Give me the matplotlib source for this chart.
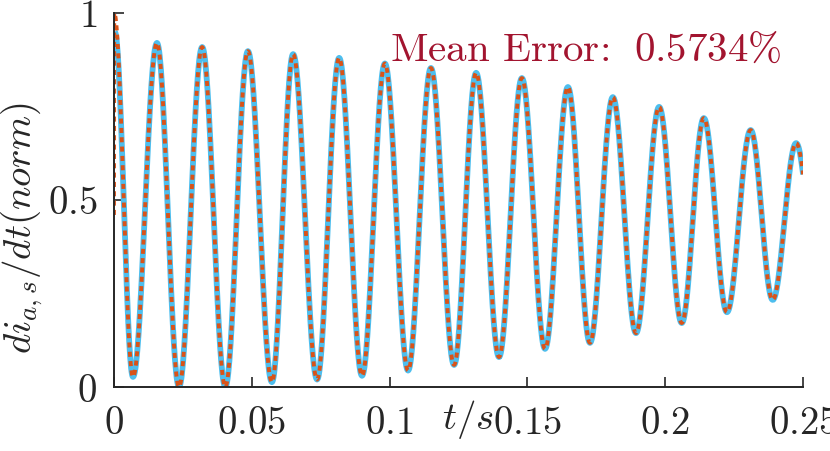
import matplotlib
matplotlib.use('Agg')
import matplotlib.pyplot as plt
import numpy as np

plt.rcParams['mathtext.fontset'] = 'cm'
plt.rcParams['font.family'] = 'serif'

# extrema of the waveform (time in s, normalised value)
ext_t = [0.0069, 0.0156, 0.0236, 0.0320, 0.0404, 0.0486, 0.0573, 0.0650,
         0.0737, 0.0817, 0.0900, 0.0983, 0.1067, 0.1150, 0.1234, 0.1314,
         0.1397, 0.1480, 0.1564, 0.1647, 0.1727, 0.1810, 0.1894, 0.1978,
         0.2060, 0.2140, 0.2224, 0.2310, 0.2390, 0.2475, 0.2557]
ext_v = [0.027, 0.920, 0.000, 0.909, 0.000, 0.898, 0.013, 0.890,
         0.020, 0.880, 0.030, 0.865, 0.044, 0.853, 0.059, 0.840,
         0.080, 0.826, 0.102, 0.802, 0.118, 0.775, 0.144, 0.749,
         0.171, 0.719, 0.200, 0.687, 0.233, 0.652, 0.265]

# start of each trace
sim_start_t = [0.0003]
sim_start_v = [0.95]
ref_start_t = [0.0, 0.0001]
ref_start_v = [0.46, 1.0]

xticks = [0, 0.05, 0.1, 0.15, 0.2, 0.25]
xticklabels = ['$0$', '$0.05$', '$0.1$', '$0.15$', '$0.2$', '$0.25$']
yticks = [0, 0.5, 1]
yticklabels = ['$0$', '$0.5$', '$1$']

mean_error = 0.5734


def wave(tp, vp, n=40):
    # join the extrema with half-cosine arcs
    ts, vs = [], []
    for i in range(len(tp) - 1):
        s = np.linspace(0, 1, n)
        ts.append(tp[i] + (tp[i + 1] - tp[i]) * s)
        vs.append(vp[i] + (vp[i + 1] - vp[i]) * (1 - np.cos(np.pi * s)) / 2)
    return np.concatenate(ts), np.concatenate(vs)


t_sim, v_sim = wave(sim_start_t + ext_t, sim_start_v + ext_v)
t_ref, v_ref = wave(ref_start_t + ext_t, ref_start_v + ext_v)

fig = plt.figure(figsize=(8.3, 4.51), dpi=100)
ax = fig.add_axes([0.1373, 0.1419, 0.8302, 0.8293])

ax.plot(t_sim, v_sim, color='#4DBEEE', lw=4.2, solid_capstyle='butt')
ax.plot(t_ref, v_ref, color='#D95319', lw=2.8, dashes=(1.3, 1.1),
        dash_capstyle='butt')

ax.set_xlim(0, 0.25)
ax.set_ylim(0, 1)
ax.set_xticks(xticks)
ax.set_xticklabels(xticklabels, fontsize=28)
ax.set_yticks(yticks)
ax.set_yticklabels(yticklabels, fontsize=28)
ax.tick_params(direction='in', length=7, width=1.2, color='#262626',
               pad=12, labelcolor='#262626')
ax.tick_params(axis='x', pad=13)
for side in ['top', 'right']:
    ax.spines[side].set_visible(False)
for side in ['left', 'bottom']:
    ax.spines[side].set_color('#262626')
    ax.spines[side].set_linewidth(1.4)

ax.set_xlabel('$t/s$', fontsize=28, color='#262626')
ax.xaxis.set_label_coords(0.514, -0.03)
ax.set_ylabel('$di_{a,s}/dt(norm)$', fontsize=28, color='#262626')
ax.yaxis.set_label_coords(-0.10, 0.425)

ax.text(0.40, 0.872, 'Mean Error: $\\;%.4f\\%%$' % mean_error,
        transform=ax.transAxes, fontsize=29.5, color='#A2142F',
        family='cmr10', va='baseline', ha='left')

fig.savefig('out.png', dpi=100)
